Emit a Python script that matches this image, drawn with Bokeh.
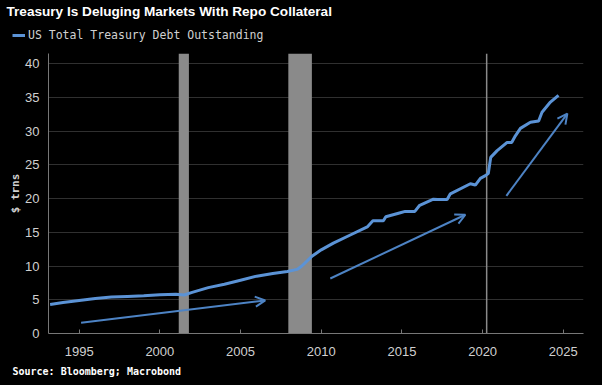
from bokeh.plotting import figure
from bokeh.layouts import column, row
from bokeh.models import (Range1d, BoxAnnotation, Span, Arrow, OpenHead, Title,
                          Legend, LegendItem, SingleIntervalTicker)
from bokeh.embed import file_html
from bokeh.resources import INLINE

# ---- data ----
years = [1993.2, 1994.0, 1995.0, 1996.0, 1997.0, 1998.0, 1999.0, 2000.0, 2001.0, 2001.5,
         2002.0, 2003.0, 2004.0, 2005.0, 2006.0, 2007.0, 2007.9, 2008.5, 2008.8, 2009.4,
         2010.0, 2010.75, 2011.8, 2012.85, 2013.2, 2013.85, 2014.0, 2014.9, 2015.2, 2015.8,
         2016.1, 2016.95, 2017.2, 2017.8, 2018.0, 2019.24, 2019.55, 2019.86, 2020.17, 2020.35,
         2020.5, 2020.9, 2021.5, 2021.8, 2022.03, 2022.34, 2022.96, 2023.47, 2023.68, 2024.2,
         2024.7]
debt = [4.3, 4.6, 4.9, 5.2, 5.4, 5.5, 5.6, 5.75, 5.8, 5.7,
        6.1, 6.8, 7.3, 7.9, 8.5, 8.9, 9.2, 9.5, 10.0, 11.4,
        12.4, 13.4, 14.6, 15.8, 16.7, 16.7, 17.3, 17.9, 18.1, 18.1,
        19.0, 19.9, 19.85, 19.85, 20.7, 22.2, 22.0, 23.0, 23.4, 23.7,
        26.1, 27.1, 28.3, 28.3, 29.3, 30.4, 31.3, 31.5, 32.8, 34.3,
        35.3]

recession_start = [2001.17, 2007.96]
recession_end = [2001.80, 2009.42]
covid_line = 2020.25

arrow_x0 = [1995.12, 2010.56, 2021.47]
arrow_y0 = [1.6, 8.15, 20.4]
arrow_x1 = [2006.53, 2018.93, 2025.25]
arrow_y1 = [4.9, 17.6, 32.6]

title_text = "Treasury Is Deluging Markets With Repo Collateral"
series_name = "US Total Treasury Debt Outstanding"
source_text = "Source: Bloomberg; Macrobond"
y_label = "$ trns"

X0, X1 = 1993.1, 2026.25
Y0, Y1 = 0, 41.5

LINE = "#5b93d6"
ARROW = "#4d83c4"
GREY = "#8a8a8a"
TXT = "#d0d0d0"

# ---------- header: title + legend ----------
head = figure(width=602, height=42, output_backend="svg", toolbar_location=None,
              x_range=Range1d(0, 1), y_range=Range1d(0, 1),
              background_fill_color="black", border_fill_color="black",
              outline_line_color=None, min_border=0)
head.axis.visible = False
head.grid.visible = False
head.title.text = title_text
head.title.text_color = "white"
head.title.text_font = "Liberation Sans"
head.title.text_font_style = "bold"
head.title.text_font_size = "13.6px"
head.title.offset = 6
head.title.standoff = 3
# same series drawn in the header (outside its ranges) only to feed the legend
hr = head.line(years, debt, line_color=LINE, line_width=3)
legend = Legend(items=[LegendItem(label=series_name, renderers=[hr])],
                location=(12, 0), background_fill_alpha=0, border_line_color=None,
                label_text_color=TXT, label_text_font="DejaVu Sans Mono",
                label_text_font_size="11.5px", label_text_baseline="middle",
                glyph_width=13, glyph_height=12, label_height=12, label_standoff=3,
                padding=0, margin=0, spacing=0)
head.add_layout(legend)

# ---------- main chart ----------
p = figure(frame_width=535, frame_height=280, output_backend="svg", toolbar_location=None,
           x_range=Range1d(X0, X1), y_range=Range1d(Y0, Y1),
           background_fill_color="black", border_fill_color="black",
           outline_line_color=None,
           min_border_left=48, min_border_right=19, min_border_top=11, min_border_bottom=52)

for s, e in zip(recession_start, recession_end):
    p.add_layout(BoxAnnotation(left=s, right=e, fill_color=GREY, fill_alpha=1.0,
                               line_color=None, level="underlay"))
p.add_layout(Span(location=covid_line, dimension="height", line_color=GREY,
                  line_width=1.5, level="underlay"))

r = p.line(years, debt, line_color=LINE, line_width=3)

for x0, y0, x1, y1 in zip(arrow_x0, arrow_y0, arrow_x1, arrow_y1):
    p.add_layout(Arrow(x_start=x0, y_start=y0, x_end=x1, y_end=y1,
                       line_color=ARROW, line_width=2,
                       end=OpenHead(size=10, line_color=ARROW, line_width=2)))

p.xaxis.ticker = SingleIntervalTicker(interval=5)
p.yaxis.ticker = SingleIntervalTicker(interval=5)
for ax in (p.xaxis[0], p.yaxis[0]):
    ax.axis_line_color = "#777777"
    ax.major_tick_line_color = "#777777"
    ax.minor_tick_line_color = None
    ax.major_label_text_color = TXT
    ax.major_label_text_font = "Liberation Sans"
    ax.major_label_text_font_size = "13px"
p.xaxis.major_tick_in = 4
p.xaxis.major_tick_out = 0
p.xaxis.major_label_standoff = 9
p.yaxis.major_tick_in = 0
p.yaxis.major_tick_out = 0
p.yaxis.major_label_standoff = 5
p.yaxis.axis_label = y_label
p.yaxis.axis_label_text_color = TXT
p.yaxis.axis_label_text_font = "DejaVu Sans Mono"
p.yaxis.axis_label_text_font_style = "bold"
p.yaxis.axis_label_text_font_size = "11px"
p.yaxis.axis_label_standoff = 0

p.xgrid.grid_line_color = None
p.ygrid.grid_line_color = "#303030"
p.ygrid.grid_line_width = 1

p.add_layout(Title(text=source_text, text_color="white", text_font="DejaVu Sans Mono",
                   text_font_style="bold", text_font_size="10px", offset=-36,
                   standoff=11), "below")

page = column(row(head), p, spacing=0)

html = file_html(page, INLINE)
html = html.replace("</head>", "<style>body{background:#000;}</style></head>")
open("out.html", "w").write(html)
